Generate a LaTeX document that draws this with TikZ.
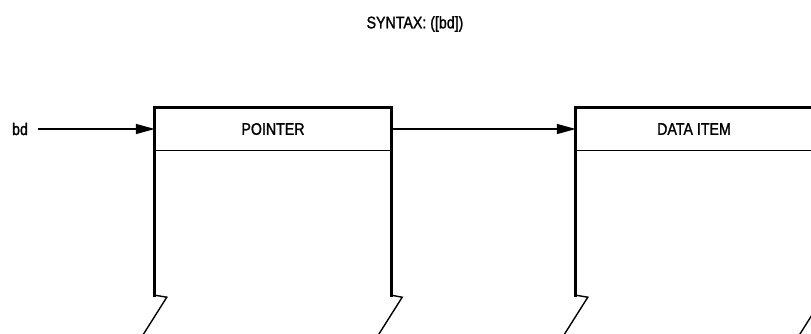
\documentclass[tikz,border=0pt]{standalone}
\usepackage{fontspec}
\setmainfont{Liberation Sans}[FakeStretch=0.845,FakeBold=1.3]
\usetikzlibrary{arrows.meta}
\tikzset{
  lbl/.style={inner sep=0pt, font=\fontsize{16.8}{20}\selectfont},
  hdr/.style={lbl, minimum width=236pt, minimum height=42pt},
  outer/.style={line width=2.8pt, line cap=rect, line join=miter},
  divider/.style={line width=1.4pt},
  foot/.style={line width=1.4pt},
  arr/.style={line width=1.4pt, -{Triangle[length=19pt,width=10pt]}}
}
\begin{document}
\begin{tikzpicture}[x=1pt,y=-1pt]
\useasboundingbox (0,0) rectangle (811,333);
\clip (0,0) rectangle (811,333);
\node[lbl] (title) at (415,24) {SYNTAX: ([bd])};
\node[lbl] (bd) at (20,129) {bd};
\node[hdr] (p) at (273,129) {POINTER};
\node[hdr] (d) at (694,129) {DATA ITEM};
% box outlines
\foreach \n in {p,d}{
  \draw[outer] ([yshift=-145pt]\n.south west) -- (\n.north west) -- (\n.north east) -- ([yshift=-145pt]\n.south east);
  \draw[divider] (\n.south west) -- (\n.south east);
  \draw[foot] ([yshift=-145pt]\n.south west) -- ++(12,2) -- ++(-24,38);
  \draw[foot] ([yshift=-145pt]\n.south east) -- ++(11,2) -- ++(-24,38);
}
% connectors
\draw[arr] ([xshift=10pt]bd.east) -- (p.west);
\draw[arr] (p.east) -- (d.west);
\end{tikzpicture}
\end{document}
